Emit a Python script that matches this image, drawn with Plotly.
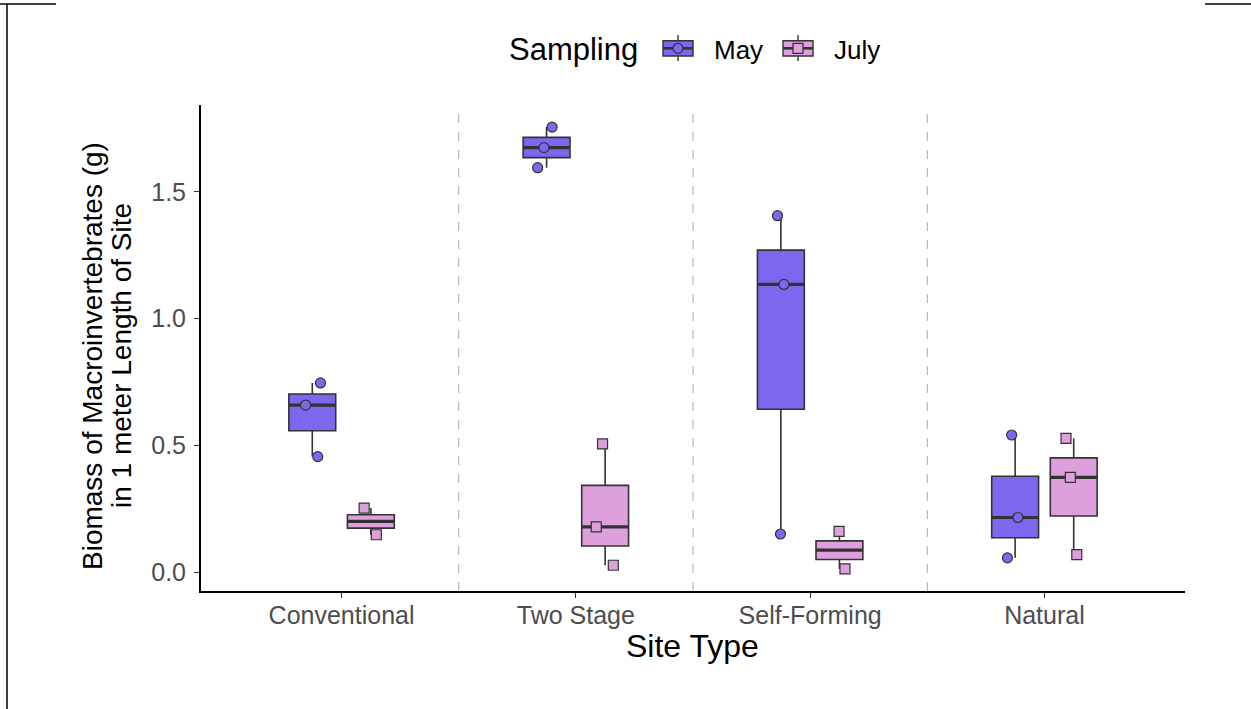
import numpy as np
import plotly.graph_objects as go

# Site categories (x axis order)
sites = ["Conventional", "Two Stage", "Self-Forming", "Natural"]

# May sampling: biomass (g) per 1 m of site
may_sites = ["Conventional"] * 3 + ["Two Stage"] * 3 + ["Self-Forming"] * 3 + ["Natural"] * 3
may_biomass = [0.747, 0.660, 0.457,
               1.755, 1.674, 1.595,
               1.406, 1.135, 0.152,
               0.542, 0.217, 0.058]

# July sampling: biomass (g) per 1 m of site
july_sites = ["Conventional"] * 2 + ["Two Stage"] * 3 + ["Self-Forming"] * 2 + ["Natural"] * 3
july_biomass = [0.254, 0.149,
                0.507, 0.180, 0.029,
                0.162, 0.0145,
                0.529, 0.375, 0.071]

y_ticks = [0.0, 0.5, 1.0, 1.5]

MAY_FILL = "#7B68EE"
JULY_FILL = "#DDA0DD"
OUTLINE = "#333333"
FONT = "Liberation Sans, Arial, sans-serif"

W, H = 1251, 709
M_L, M_R, M_T, M_B = 201, 66, 105, 118
PW, PH = W - M_L - M_R, H - M_T - M_B


def px_x(px):
    """Page pixel column -> paper x."""
    return (px - M_L) / PW


def px_y(py):
    """Page pixel row -> paper y."""
    return (H - M_B - py) / PH


def box_stats(labels, values):
    """Tukey box statistics per site (type-7 quartiles, 1.5 IQR whiskers)."""
    out = {k: [] for k in ("q1", "median", "q3", "lo", "hi")}
    for s in sites:
        v = np.array([y for x, y in zip(labels, values) if x == s])
        q1, med, q3 = np.quantile(v, [0.25, 0.5, 0.75])
        iqr = q3 - q1
        out["q1"].append(q1)
        out["median"].append(med)
        out["q3"].append(q3)
        out["lo"].append(v[v >= q1 - 1.5 * iqr].min())
        out["hi"].append(v[v <= q3 + 1.5 * iqr].max())
    return out


fig = go.Figure()

series = [
    ("May", may_sites, may_biomass, MAY_FILL, "circle"),
    ("July", july_sites, july_biomass, JULY_FILL, "square"),
]

for name, xs, ys, fill, symbol in series:
    st = box_stats(xs, ys)
    # box + whiskers
    fig.add_trace(go.Box(
        name=name, legendgroup=name, offsetgroup=name,
        orientation="v",
        x=sites, q1=st["q1"], median=st["median"], q3=st["q3"],
        lowerfence=st["lo"], upperfence=st["hi"],
        fillcolor=fill,
        line=dict(color=OUTLINE, width=1.6),
        whiskerwidth=0,
        hoverinfo="skip",
    ))
    # heavier median bar
    fig.add_trace(go.Box(
        name=name, legendgroup=name, offsetgroup=name,
        orientation="v",
        x=sites, q1=st["median"], median=st["median"], q3=st["median"],
        lowerfence=st["median"], upperfence=st["median"],
        fillcolor="rgba(0,0,0,0)",
        line=dict(color=OUTLINE, width=3.2),
        whiskerwidth=0,
        hoverinfo="skip",
    ))
    # individual samples, jittered
    fig.add_trace(go.Box(
        name=name, legendgroup=name, offsetgroup=name,
        x=xs, y=ys,
        fillcolor="rgba(0,0,0,0)",
        line=dict(color="rgba(0,0,0,0)", width=0),
        whiskerwidth=0,
        boxpoints="all", pointpos=0, jitter=0.45,
        marker=dict(color=fill, symbol=symbol, size=10,
                    line=dict(color=OUTLINE, width=1.2)),
        hoverinfo="y",
    ))

# Dashed separators between site types
shapes = []
for i in range(len(sites) - 1):
    shapes.append(dict(type="line", xref="x", yref="paper",
                       x0=i + 0.5, x1=i + 0.5, y0=0, y1=1,
                       line=dict(color="#AAAAAA", width=1, dash="dash"),
                       layer="below"))

# Thin page frame fragments
frame = dict(color="black", width=1.5)
shapes += [
    dict(type="line", xref="paper", yref="paper",
         x0=px_x(0), x1=px_x(56), y0=px_y(4), y1=px_y(4), line=frame),
    dict(type="line", xref="paper", yref="paper",
         x0=px_x(1205), x1=px_x(1251), y0=px_y(4), y1=px_y(4), line=frame),
    dict(type="line", xref="paper", yref="paper",
         x0=px_x(7), x1=px_x(7), y0=px_y(4), y1=px_y(709), line=frame),
]

annotations = [
    dict(text="Biomass of Macroinvertebrates (g)", textangle=-90,
         xref="paper", yref="paper", x=px_x(92), y=px_y(356),
         xanchor="center", yanchor="middle", showarrow=False,
         font=dict(family=FONT, size=28, color="black")),
    dict(text="in 1 meter Length of Site", textangle=-90,
         xref="paper", yref="paper", x=px_x(121), y=px_y(356),
         xanchor="center", yanchor="middle", showarrow=False,
         font=dict(family=FONT, size=28, color="black")),
    dict(text="Site Type",
         xref="paper", yref="paper", x=px_x(692), y=px_y(646),
         xanchor="center", yanchor="middle", showarrow=False,
         font=dict(family=FONT, size=32, color="black")),
    dict(text="Sampling",
         xref="paper", yref="paper", x=px_x(507), y=px_y(49),
         xanchor="left", yanchor="middle", showarrow=False,
         font=dict(family=FONT, size=31, color="black")),
]

# Legend keys drawn as miniature boxplots
KEY_TOP, KEY_BOT, KEY_MID = 40.7, 56.0, 48.3
for (name, _, _, fill, symbol), key_left in zip(series, [663, 783]):
    kx0, kx1 = key_left, key_left + 30
    kc = (kx0 + kx1) / 2
    shapes += [
        dict(type="line", xref="paper", yref="paper",
             x0=px_x(kc), x1=px_x(kc), y0=px_y(35), y1=px_y(61),
             line=dict(color=OUTLINE, width=1.4)),
        dict(type="rect", xref="paper", yref="paper",
             x0=px_x(kx0), x1=px_x(kx1), y0=px_y(KEY_BOT), y1=px_y(KEY_TOP),
             fillcolor=fill, line=dict(color=OUTLINE, width=1.4)),
        dict(type="line", xref="paper", yref="paper",
             x0=px_x(kx0), x1=px_x(kx1), y0=px_y(KEY_MID), y1=px_y(KEY_MID),
             line=dict(color=OUTLINE, width=2.6)),
        dict(type="circle" if symbol == "circle" else "rect",
             xref="paper", yref="paper",
             x0=px_x(kc - 5), x1=px_x(kc + 5),
             y0=px_y(KEY_MID + 5), y1=px_y(KEY_MID - 5),
             fillcolor=fill, line=dict(color=OUTLINE, width=1.2)),
    ]
    annotations.append(dict(
        text=name, xref="paper", yref="paper",
        x=px_x(kx1 + 19), y=px_y(50),
        xanchor="left", yanchor="middle", showarrow=False,
        font=dict(family=FONT, size=26, color="black")))

fig.update_layout(
    width=W, height=H,
    margin=dict(l=M_L, r=M_R, t=M_T, b=M_B, pad=0),
    paper_bgcolor="white",
    plot_bgcolor="white",
    boxmode="group",
    boxgap=0.5,
    boxgroupgap=0.2,
    font=dict(family=FONT, color="black"),
    showlegend=False,
    xaxis=dict(
        type="category",
        categoryorder="array",
        categoryarray=sites,
        range=[-0.6, len(sites) - 1 + 0.6],
        showline=True, linecolor="black", linewidth=2,
        ticks="outside", ticklen=5, tickwidth=1.2, tickcolor=OUTLINE,
        tickfont=dict(family=FONT, size=25, color="#4D4D4D"),
        ticklabelstandoff=-4,
        showgrid=False, zeroline=False,
    ),
    yaxis=dict(
        range=[-0.0725, 1.842],
        tickvals=y_ticks,
        tickformat=".1f",
        showline=True, linecolor="black", linewidth=2,
        ticks="outside", ticklen=5, tickwidth=1.2, tickcolor=OUTLINE,
        tickfont=dict(family=FONT, size=25, color="#4D4D4D"),
        ticklabelstandoff=3,
        showgrid=False, zeroline=False,
    ),
    shapes=shapes,
    annotations=annotations,
)

fig.write_html("out.html")
